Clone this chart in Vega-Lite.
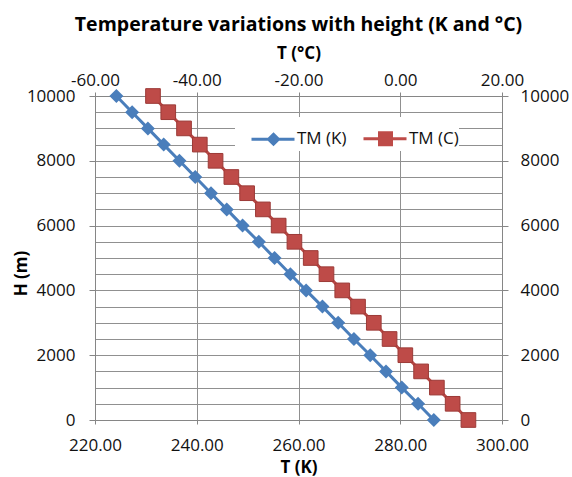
{
  "$schema": "https://vega.github.io/schema/vega-lite/v6.json",
  "width": 407,
  "height": 324,
  "autosize": {"type": "none"},
  "padding": {"left": 95, "top": 96, "right": 70, "bottom": 57},
  "background": "white",
  "title": {"text": "Temperature variations with height (K and °C)", "font": "Open Sans", "fontSize": 19.5, "fontWeight": "bold", "color": "#000000", "anchor": "middle", "frame": "group", "offset": 9},
  "config": {
    "view": {"stroke": null},
    "axis": {"labelFont": "Open Sans", "labelFontSize": 17, "labelColor": "#111111", "titleFont": "Open Sans", "titleFontSize": 17, "titleFontWeight": "bold", "titleColor": "#000000", "domainColor": "#868686", "tickColor": "#868686", "gridColor": "#909090", "domainWidth": 1, "gridWidth": 1, "tickWidth": 1, "labelFlush": false, "labelOverlap": false}
  },
  "data": {"values": [
    {"series": "TM (K)", "H": 0, "T": 286.6}, {"series": "TM (K)", "H": 500, "T": 283.5}, {"series": "TM (K)", "H": 1000, "T": 280.3},
    {"series": "TM (K)", "H": 1500, "T": 277.2}, {"series": "TM (K)", "H": 2000, "T": 274.1}, {"series": "TM (K)", "H": 2500, "T": 270.9},
    {"series": "TM (K)", "H": 3000, "T": 267.8}, {"series": "TM (K)", "H": 3500, "T": 264.7}, {"series": "TM (K)", "H": 4000, "T": 261.5},
    {"series": "TM (K)", "H": 4500, "T": 258.4}, {"series": "TM (K)", "H": 5000, "T": 255.3}, {"series": "TM (K)", "H": 5500, "T": 252.2},
    {"series": "TM (K)", "H": 6000, "T": 249.0}, {"series": "TM (K)", "H": 6500, "T": 245.9}, {"series": "TM (K)", "H": 7000, "T": 242.8},
    {"series": "TM (K)", "H": 7500, "T": 239.7}, {"series": "TM (K)", "H": 8000, "T": 236.6}, {"series": "TM (K)", "H": 8500, "T": 233.5},
    {"series": "TM (K)", "H": 9000, "T": 230.4}, {"series": "TM (K)", "H": 9500, "T": 227.3}, {"series": "TM (K)", "H": 10000, "T": 224.2},
    {"series": "TM (C)", "H": 0, "T": 13.4}, {"series": "TM (C)", "H": 500, "T": 10.3}, {"series": "TM (C)", "H": 1000, "T": 7.2},
    {"series": "TM (C)", "H": 1500, "T": 4.1}, {"series": "TM (C)", "H": 2000, "T": 1.0}, {"series": "TM (C)", "H": 2500, "T": -2.1},
    {"series": "TM (C)", "H": 3000, "T": -5.2}, {"series": "TM (C)", "H": 3500, "T": -8.3}, {"series": "TM (C)", "H": 4000, "T": -11.4},
    {"series": "TM (C)", "H": 4500, "T": -14.5}, {"series": "TM (C)", "H": 5000, "T": -17.6}, {"series": "TM (C)", "H": 5500, "T": -20.8},
    {"series": "TM (C)", "H": 6000, "T": -23.9}, {"series": "TM (C)", "H": 6500, "T": -27.0}, {"series": "TM (C)", "H": 7000, "T": -30.1},
    {"series": "TM (C)", "H": 7500, "T": -33.2}, {"series": "TM (C)", "H": 8000, "T": -36.3}, {"series": "TM (C)", "H": 8500, "T": -39.4},
    {"series": "TM (C)", "H": 9000, "T": -42.5}, {"series": "TM (C)", "H": 9500, "T": -45.6}, {"series": "TM (C)", "H": 10000, "T": -48.6}
  ]},
  "encoding": {
    "color": {
      "field": "series", "type": "nominal",
      "scale": {"domain": ["TM (K)", "TM (C)"], "range": ["#4A7EBB", "#BE4B48"]},
      "legend": {
        "orient": "none", "legendX": 140, "legendY": 21, "direction": "horizontal", "title": null,
        "fillColor": "white", "padding": 0, "symbolSize": 1600, "labelOffset": 19, "columnPadding": 0,
        "labelFont": "Open Sans", "labelFontSize": 17, "labelColor": "#111111", "symbolStrokeWidth": 3, "symbolOpacity": 1,
        "labelExpr": "datum.label === 'TM (C)' ? datum.label + '\u2007\u2007\u2007' : datum.label",
        "encode": {"symbols": {"update": {
          "shape": [{"test": "datum.value === 'TM (K)'", "value": "M-0.25,0H1.9M0.85,-0.25L1.1,0L0.85,0.25L0.6,0Z"}, {"value": "M-0.25,0H1.9M0.55,-0.3H1.15V0.3H0.55Z"}],
          "fill": [{"test": "datum.value === 'TM (K)'", "value": "#4A7EBB"}, {"value": "#BE4B48"}],
          "stroke": [{"test": "datum.value === 'TM (K)'", "value": "#4A7EBB"}, {"value": "#BE4B48"}],
          "strokeWidth": {"value": 3},
          "opacity": {"value": 1}
        }}}
      }
    }
  },
  "layer": [
    {
      "transform": [{"filter": "datum.series === 'TM (K)'"}],
      "encoding": {
        "x": {"field": "T", "type": "quantitative", "scale": {"domain": [220, 300], "nice": false, "zero": false},
          "axis": {"orient": "bottom", "title": "T (K)", "values": [220, 240, 260, 280, 300], "format": ".2f", "grid": true, "tickSize": 4, "labelPadding": 13, "titleY": 47, "titleBaseline": "middle"}},
        "y": {"field": "H", "type": "quantitative", "scale": {"domain": [0, 10000], "nice": false, "zero": false},
          "axis": {"orient": "left", "title": "H (m)", "format": "d",
            "values": [0, 500, 1000, 1500, 2000, 2500, 3000, 3500, 4000, 4500, 5000, 5500, 6000, 6500, 7000, 7500, 8000, 8500, 9000, 9500, 10000],
            "labelExpr": "datum.value % 2000 === 0 ? datum.label : ''",
            "tickOpacity": {"condition": {"test": "datum.value % 2000 === 0", "value": 1}, "value": 0},
            "grid": true, "tickSize": 6, "labelPadding": 14, "titleX": -74, "titleY": 177, "titleBaseline": "middle"}}
      },
      "layer": [
        {"mark": {"type": "line", "strokeWidth": 3}},
        {"mark": {"type": "point", "shape": "diamond", "filled": true, "size": 196, "opacity": 1}}
      ]
    },
    {
      "transform": [{"filter": "datum.series === 'TM (C)'"}],
      "encoding": {
        "x": {"field": "T", "type": "quantitative", "scale": {"domain": [-60, 20], "nice": false, "zero": false},
          "axis": {"orient": "top", "title": "T (°C)", "values": [-60, -40, -20, 0, 20], "format": ".2f", "labelExpr": "replace(datum.label, '\u2212', '-')", "grid": false, "tickSize": 4, "labelPadding": 3, "titleY": -43, "titleBaseline": "middle"}},
        "y": {"field": "H", "type": "quantitative", "scale": {"domain": [0, 10000], "nice": false, "zero": false},
          "axis": {"orient": "right", "title": null, "format": "d", "values": [0, 2000, 4000, 6000, 8000, 10000], "grid": false, "tickSize": 6, "labelPadding": 12}}
      },
      "layer": [
        {"mark": {"type": "line", "strokeWidth": 3}},
        {"mark": {"type": "point", "shape": "square", "filled": true, "size": 215, "opacity": 1, "stroke": "#9C3A37", "strokeWidth": 1}}
      ]
    }
  ],
  "resolve": {"scale": {"x": "independent", "y": "independent"}, "axis": {"x": "independent", "y": "independent"}}
}
